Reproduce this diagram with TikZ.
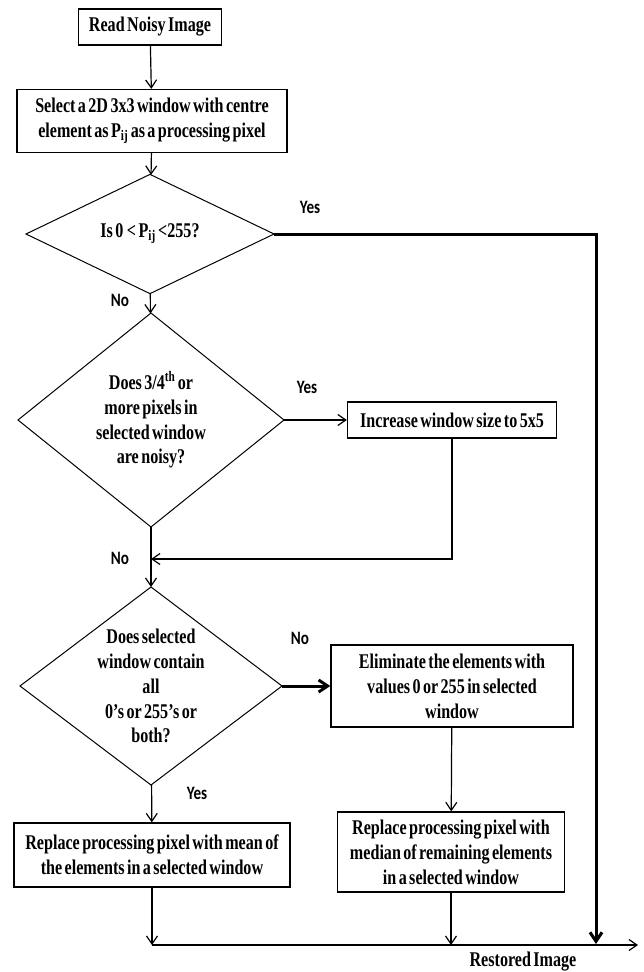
\documentclass[tikz,border=0pt]{standalone}
\usepackage{fontspec}
\setmainfont{Liberation Serif}[FakeStretch=0.77,WordSpace=0.6]
\newfontfamily\lblfont{Carlito}[FakeStretch=0.8]
\usetikzlibrary{shapes.geometric,arrows.meta}
\begin{document}
\begin{tikzpicture}[x=1bp,y=-1bp,
    box/.style={draw, line width=1.3bp, inner sep=0pt, align=center,
      font=\bfseries\fontsize{21}{25}\selectfont},
    dec/.style={draw, diamond, line width=1bp, inner sep=0pt, outer sep=0pt,
      align=center, font=\bfseries\fontsize{21}{25}\selectfont},
    lbl/.style={font=\lblfont\bfseries\fontsize{19}{22}\selectfont},
    line/.style={line width=1.2bp, -{Straight Barb[length=8bp,width=11bp]}},
    heavy/.style={line width=3bp, -{Straight Barb[length=9bp,width=12bp]}}]
  \useasboundingbox (0,0) rectangle (644,972);
  % boxes and decisions
  \node[box, minimum width=143bp, minimum height=36bp] (read) at (150,27) {Read Noisy Image};
  \node[box, minimum width=270bp, minimum height=63bp] (sel) at (152,121) {Select a 2D 3x3 window with centre\\element as P\textsubscript{ij} as a processing pixel};
  \node[dec, minimum width=248bp, minimum height=92bp] (d1) at (150,234) {Is 0\,< P\textsubscript{ij} <255?};
  \node[dec, minimum width=266bp, minimum height=214bp] (d2) at (151,420) {Does 3/4\textsuperscript{th} or\\more pixels in\\selected window\\are noisy?};
  \node[box, minimum width=209bp, minimum height=36bp] (inc) at (452,420) {Increase window size to 5x5};
  \node[dec, aspect=1.32, minimum width=262bp, minimum height=198bp] (d3) at (151,686) {Does selected\\window contain\\all\\0’s or 255’s or\\both?};
  \node[box, minimum width=242bp, minimum height=82bp] (elim) at (452,686) {Eliminate the elements with\\values 0 or 255 in selected\\window};
  \node[box, minimum width=227bp, minimum height=80bp] (med) at (451,852) {Replace processing pixel with\\median of remaining elements\\in a selected window};
  \node[box, minimum width=276bp, minimum height=64bp] (mean) at (152,855) {Replace processing pixel with mean of\\the elements in a selected window};
  \node[font=\bfseries\fontsize{21}{25}\selectfont] (out) at (523,962) {Restored Image};
  % labels
  \node[lbl] (y1) at (310,207) {Yes};
  \node[lbl] (n1) at (120,300) {No};
  \node[lbl] (y2) at (307,387) {Yes};
  \node[lbl] (n2) at (120,558) {No};
  \node[lbl] (n3) at (300,638) {No};
  \node[lbl] (y3) at (197,793) {Yes};
  \coordinate (join) at (151,559);
  \coordinate (endl) at (152,945);
  \coordinate (endr) at (638,945);
  \coordinate (yesend) at (596,944);
  % connectors
  \draw[line] (read) -- (sel);
  \draw[line] (sel) -- (d1);
  \draw[heavy] (d1.east) -| (yesend);
  \draw[line] (d1) -- (d2);
  \draw[line] (d2) -- (inc);
  \draw[line] (inc) |- (join);
  \draw[line] (d2) -- (d3);
  \draw[heavy] (d3) -- (elim);
  \draw[line] (elim) -- (med);
  \draw[line] (d3) -- (mean);
  \draw[line] (mean) -- (endl);
  \draw[line] (med) -- (med |- endl);
  \draw[line] (endl) -- (endr);
\end{tikzpicture}
\end{document}
